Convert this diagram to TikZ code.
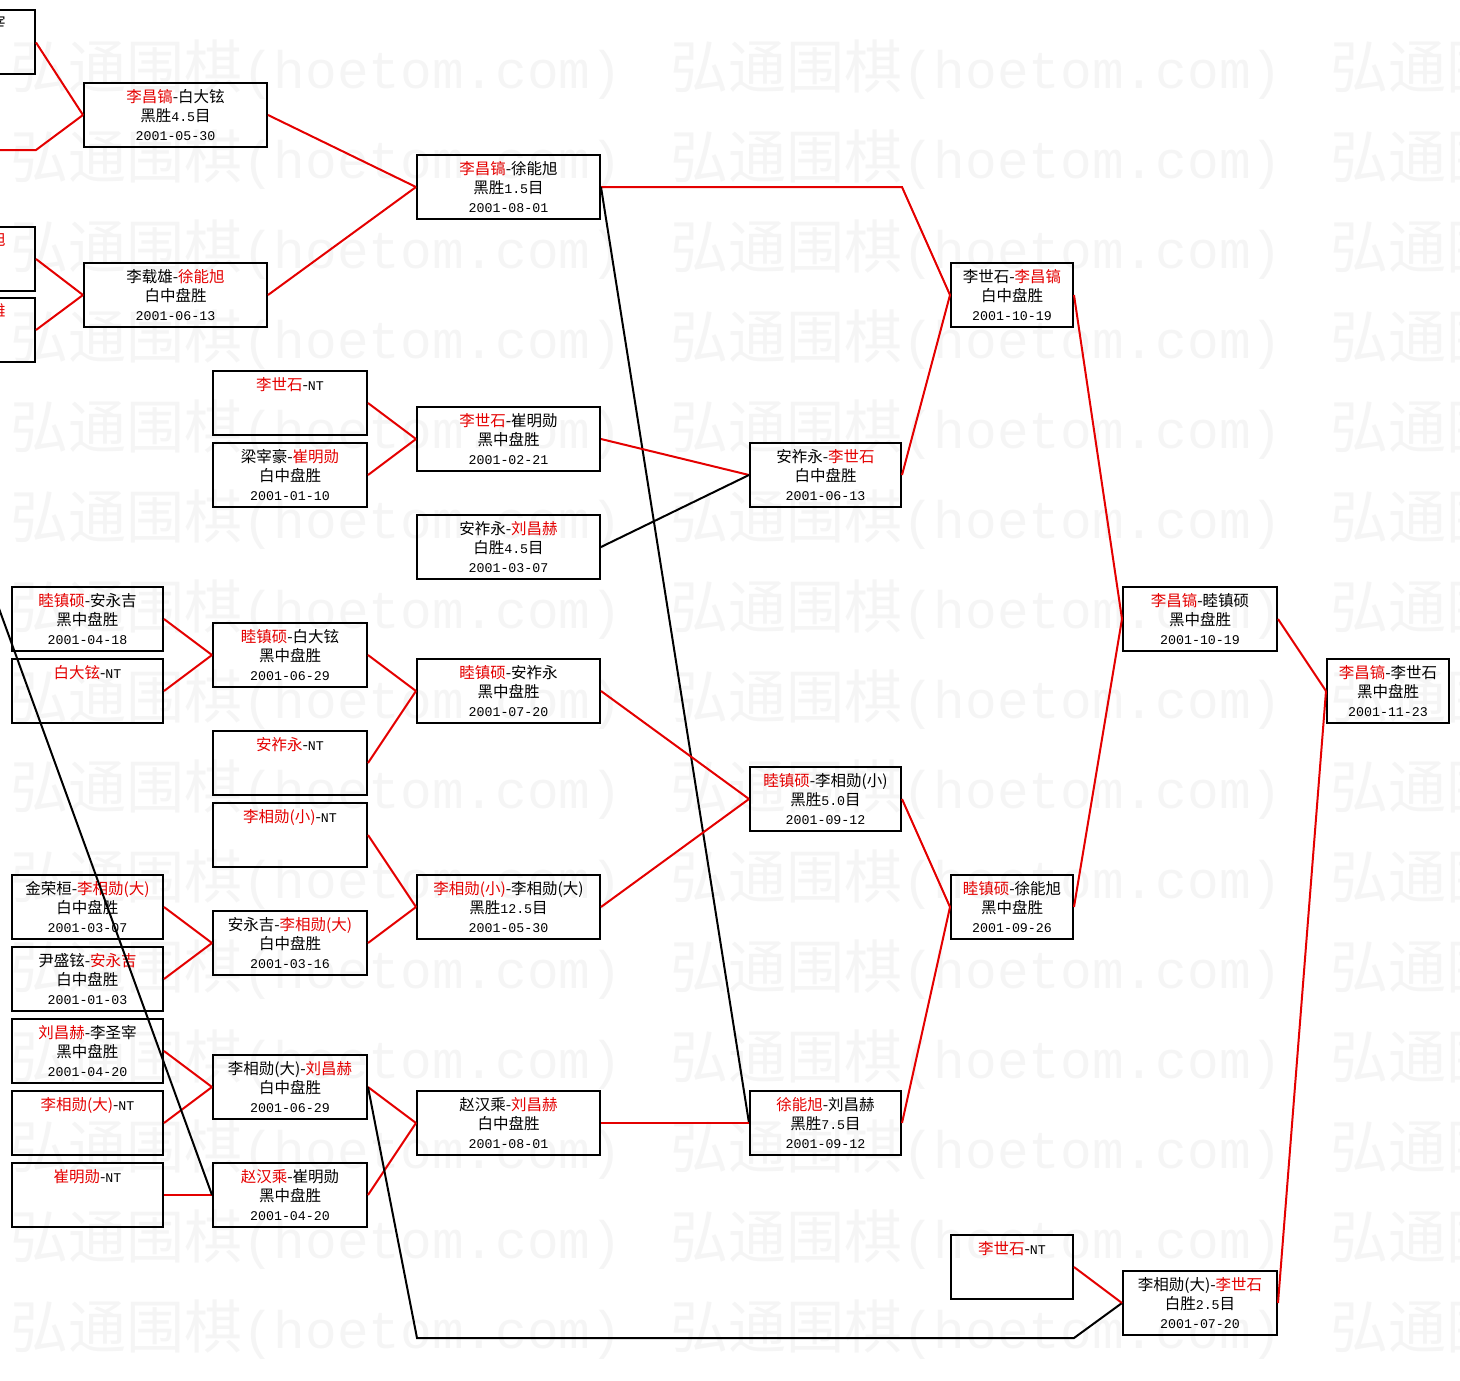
\documentclass[tikz,border=0pt]{standalone}
\usepackage{fontspec}
\setmainfont{Noto Sans CJK SC}
\newfontfamily\monof{Liberation Mono}
\definecolor{wred}{RGB}{228,0,0}
\newcommand\dg[1]{{\fontsize{13.3}{19}\monof #1}}
\newcommand\win[1]{\textcolor{wred}{#1}}
\tikzset{
  game/.style={draw, line width=2pt, minimum width=#1, minimum height=64pt,
    inner sep=0pt, align=center, font=\fontsize{15.5}{19}\selectfont},
  cut/.style={inner sep=0pt, font=\fontsize{15.5}{19}\selectfont},
  wline/.style={draw=wred, line width=2pt},
  lline/.style={draw=black, line width=2pt},
  wmark/.style={text=black!4, anchor=west, inner sep=0pt,
    font=\fontsize{58}{60}\selectfont}
}
\begin{document}
\begin{tikzpicture}[x=1pt,y=-1pt]
        \useasboundingbox (0,0) rectangle (1460,1381);
        \clip (0,0) rectangle (1460,1381);
        \foreach \r in {0,...,14}
          \foreach \c in {0,1,2}
            \node[wmark] (wm-\r-\c) at (10+660*\c,70+90*\r)
              {弘通围棋{\fontsize{52.8}{60}\monof(hoetom.com)}};

        \node[game=151pt] (a1) at (-40.5,42.5) {};
        \node[game=151pt] (a3) at (-40.5,259) {};
        \node[game=151pt] (a4) at (-40.5,330) {};
        \node[cut] (a1t) at (-2,23) {宰};
        \node[cut] (a3t) at (-2,240) {\win{旭}};
        \node[cut] (a4t) at (-2,311) {\win{雄}};
        \coordinate (a2) at (-200,150);
        \coordinate (x1) at (-100,336);

        \node[game=183pt] (b1) at (175.5,115) {\win{李昌镐}-白大铉\\黑胜\dg{4.5}目\\\dg{2001-05-30}};
        \node[game=183pt] (b2) at (175.5,295) {李载雄-\win{徐能旭}\\白中盘胜\\\dg{2001-06-13}};

        \node[game=151pt] (l1) at (87.5,619) {\win{睦镇硕}-安永吉\\黑中盘胜\\\dg{2001-04-18}};
        \node[game=151pt] (l2) at (87.5,691) {\win{白大铉}-\dg{NT}\\\mbox{}\\\mbox{}};
        \node[game=151pt] (l3) at (87.5,907) {金荣桓-\win{李相勋(大)}\\白中盘胜\\\dg{2001-03-07}};
        \node[game=151pt] (l4) at (87.5,979) {尹盛铉-\win{安永吉}\\白中盘胜\\\dg{2001-01-03}};
        \node[game=151pt] (l5) at (87.5,1051) {\win{刘昌赫}-李圣宰\\黑中盘胜\\\dg{2001-04-20}};
        \node[game=151pt] (l6) at (87.5,1123) {\win{李相勋(大)}-\dg{NT}\\\mbox{}\\\mbox{}};
        \node[game=151pt] (l7) at (87.5,1195) {\win{崔明勋}-\dg{NT}\\\mbox{}\\\mbox{}};

        \node[game=154pt] (d1) at (290,403) {\win{李世石}-\dg{NT}\\\mbox{}\\\mbox{}};
        \node[game=154pt] (d2) at (290,475) {梁宰豪-\win{崔明勋}\\白中盘胜\\\dg{2001-01-10}};
        \node[game=154pt] (d3) at (290,655) {\win{睦镇硕}-白大铉\\黑中盘胜\\\dg{2001-06-29}};
        \node[game=154pt] (d4) at (290,763) {\win{安祚永}-\dg{NT}\\\mbox{}\\\mbox{}};
        \node[game=154pt] (d5) at (290,835) {\win{李相勋(小)}-\dg{NT}\\\mbox{}\\\mbox{}};
        \node[game=154pt] (d6) at (290,943) {安永吉-\win{李相勋(大)}\\白中盘胜\\\dg{2001-03-16}};
        \node[game=154pt] (d7) at (290,1087) {李相勋(大)-\win{刘昌赫}\\白中盘胜\\\dg{2001-06-29}};
        \node[game=154pt] (d8) at (290,1195) {\win{赵汉乘}-崔明勋\\黑中盘胜\\\dg{2001-04-20}};

        \node[game=183pt] (c1) at (508.5,187) {\win{李昌镐}-徐能旭\\黑胜\dg{1.5}目\\\dg{2001-08-01}};
        \node[game=183pt] (c2) at (508.5,439) {\win{李世石}-崔明勋\\黑中盘胜\\\dg{2001-02-21}};
        \node[game=183pt] (c3) at (508.5,547) {安祚永-\win{刘昌赫}\\白胜\dg{4.5}目\\\dg{2001-03-07}};
        \node[game=183pt] (c4) at (508.5,691) {\win{睦镇硕}-安祚永\\黑中盘胜\\\dg{2001-07-20}};
        \node[game=183pt] (c5) at (508.5,907) {\win{李相勋(小)}-李相勋(大)\\黑胜\dg{12.5}目\\\dg{2001-05-30}};
        \node[game=183pt] (c6) at (508.5,1123) {赵汉乘-\win{刘昌赫}\\白中盘胜\\\dg{2001-08-01}};
        \coordinate (bp) at (417,1338);

        \node[game=151pt] (e1) at (825.5,475) {安祚永-\win{李世石}\\白中盘胜\\\dg{2001-06-13}};
        \node[game=151pt] (e2) at (825.5,799) {\win{睦镇硕}-李相勋(小)\\黑胜\dg{5.0}目\\\dg{2001-09-12}};
        \node[game=151pt] (e3) at (825.5,1123) {\win{徐能旭}-刘昌赫\\黑胜\dg{7.5}目\\\dg{2001-09-12}};

        \node[game=122pt] (f1) at (1012,295) {李世石-\win{李昌镐}\\白中盘胜\\\dg{2001-10-19}};
        \node[game=122pt] (f2) at (1012,907) {\win{睦镇硕}-徐能旭\\黑中盘胜\\\dg{2001-09-26}};
        \node[game=122pt] (f3) at (1012,1267) {\win{李世石}-\dg{NT}\\\mbox{}\\\mbox{}};

        \node[game=154pt] (g1) at (1200,619) {\win{李昌镐}-睦镇硕\\黑中盘胜\\\dg{2001-10-19}};
        \node[game=154pt] (g2) at (1200,1303) {李相勋(大)-\win{李世石}\\白胜\dg{2.5}目\\\dg{2001-07-20}};

        \node[game=122pt] (h1) at (1388,691) {\win{李昌镐}-李世石\\黑中盘胜\\\dg{2001-11-23}};

        \draw[wline] (a1.east) -- (b1.west);
        \draw[wline] (a2) -- (a1.east |- a2) -- (b1.west);
        \draw[wline] (a3.east) -- (b2.west);
        \draw[wline] (a4.east) -- (b2.west);
        \draw[wline] (b1.east) -- (c1.west);
        \draw[wline] (b2.east) -- (c1.west);
        \draw[wline] (c1.east) -- (c1.east -| e1.east) -- (f1.west);
        \draw[lline] (c1.east) -- (e3.west);
        \draw[wline] (d1.east) -- (c2.west);
        \draw[wline] (d2.east) -- (c2.west);
        \draw[wline] (c2.east) -- (e1.west);
        \draw[lline] (c3.east) -- (e1.west);
        \draw[wline] (e1.east) -- (f1.west);
        \draw[wline] (f1.east) -- (g1.west);
        \draw[wline] (l1.east) -- (d3.west);
        \draw[wline] (l2.east) -- (d3.west);
        \draw[wline] (d3.east) -- (c4.west);
        \draw[wline] (d4.east) -- (c4.west);
        \draw[wline] (c4.east) -- (e2.west);
        \draw[wline] (d5.east) -- (c5.west);
        \draw[wline] (l3.east) -- (d6.west);
        \draw[wline] (l4.east) -- (d6.west);
        \draw[wline] (d6.east) -- (c5.west);
        \draw[wline] (c5.east) -- (e2.west);
        \draw[wline] (e2.east) -- (f2.west);
        \draw[wline] (l5.east) -- (d7.west);
        \draw[wline] (l6.east) -- (d7.west);
        \draw[wline] (l7.east) -- (d8.west);
        \draw[lline] (x1) -- (d8.west);
        \draw[wline] (d7.east) -- (c6.west);
        \draw[wline] (d8.east) -- (c6.west);
        \draw[wline] (c6.east) -- (e3.west);
        \draw[wline] (e3.east) -- (f2.west);
        \draw[wline] (f2.east) -- (g1.west);
        \draw[wline] (g1.east) -- (h1.west);
        \draw[lline] (d7.east) -- (bp) -- (bp -| f3.east) -- (g2.west);
        \draw[wline] (f3.east) -- (g2.west);
        \draw[wline] (g2.east) -- (h1.west);
      \end{tikzpicture}
\end{document}
